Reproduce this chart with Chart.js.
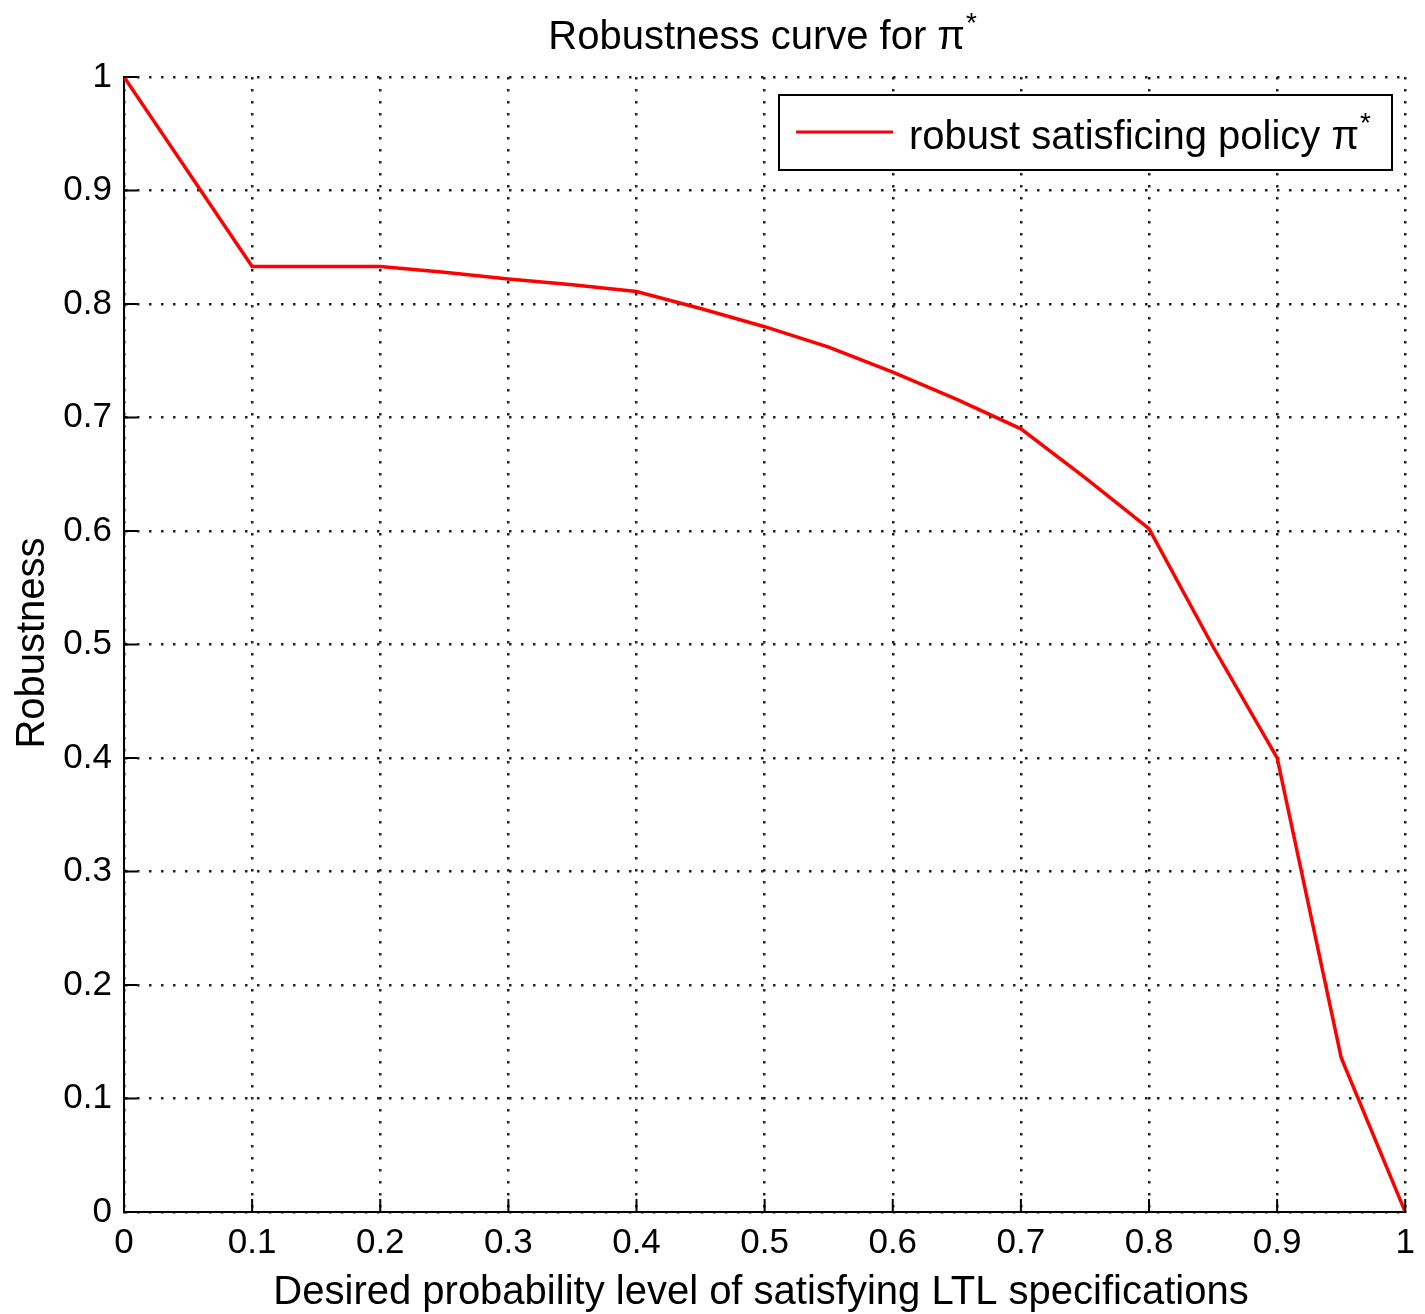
<!DOCTYPE html>
<html>
<head>
<meta charset="utf-8">
<script src="https://cdn.jsdelivr.net/npm/chart.js@4/dist/chart.umd.min.js"></script>
<style>
  html, body { margin: 0; padding: 0; background: #fff; }
  #wrap { width: 1425px; height: 1314px; }
</style>
</head>
<body>
<div id="wrap"><canvas id="robChart" width="1425" height="1314"></canvas></div>
<script>
// robustness curve for pi*

const probLevels = [0, 0.1, 0.2, 0.25, 0.3, 0.35, 0.4, 0.45, 0.5, 0.55, 0.6, 0.65, 0.7, 0.75, 0.8, 0.85, 0.9, 0.95, 1];
const robustness = [1, 0.833, 0.833, 0.828, 0.822, 0.817, 0.811, 0.796, 0.780, 0.762, 0.740, 0.716, 0.690, 0.647, 0.602, 0.498, 0.400, 0.136, 0];
const tickValues = [0, 0.1, 0.2, 0.3, 0.4, 0.5, 0.6, 0.7, 0.8, 0.9, 1];

const TITLE_TEXT  = "Robustness curve for π";
const XLABEL_TEXT = "Desired probability level of satisfying LTL specifications";
const YLABEL_TEXT = "Robustness";
const LEGEND_TEXT = "robust satisficing policy π";

const FONT = "'Liberation Sans', Arial, Helvetica, sans-serif";
const RED  = "#ff0000";

const fmtTick = v => (v === 0 || v === 1) ? String(v) : v.toFixed(1);

// draw text with a superscript asterisk after it
function _textStar(ctx, txt, x, y, size) {
  ctx.fillText(txt, x, y);
  const w = ctx.measureText(txt).width;
  ctx.save();
  ctx.font = `${Math.round(size * 0.7)}px ${FONT}`;
  ctx.fillText("*", x + w + 1, y - size * 0.42);
  ctx.restore();
  return w;
}

const decorPlugin = {
  id: "decor",
  afterDraw(chart) {
    const { ctx, chartArea: a, scales } = chart;
    const xs = scales.x, ys = scales.y;
    ctx.save();

    // inward tick marks on left and bottom axes
    ctx.strokeStyle = "#000";
    ctx.lineWidth = 2;
    ctx.beginPath();
    tickValues.forEach(v => {
      const px = xs.getPixelForValue(v);
      ctx.moveTo(px, a.bottom);
      ctx.lineTo(px, a.bottom - 13);
      const py = ys.getPixelForValue(v);
      ctx.moveTo(a.left, py);
      ctx.lineTo(a.left + 13, py);
    });
    ctx.stroke();

    ctx.fillStyle = "#000";

    // title
    ctx.font = `40px ${FONT}`;
    ctx.textBaseline = "alphabetic";
    ctx.textAlign = "left";
    const tw = ctx.measureText(TITLE_TEXT).width + 16;
    _textStar(ctx, TITLE_TEXT, (a.left + a.right) / 2 - tw / 2, 49, 40);

    // x label
    ctx.font = `40px ${FONT}`;
    ctx.textAlign = "center";
    ctx.fillText(XLABEL_TEXT, 761, 1304);

    // y label
    ctx.save();
    ctx.translate(44, 643);
    ctx.rotate(-Math.PI / 2);
    ctx.fillText(YLABEL_TEXT, 0, 0);
    ctx.restore();

    // legend box
    const lx = 779, ly = 95, lw = 613, lh = 75;
    ctx.fillStyle = "#fff";
    ctx.fillRect(lx, ly, lw, lh);
    ctx.strokeStyle = "#000";
    ctx.lineWidth = 2;
    ctx.strokeRect(lx, ly, lw, lh);
    ctx.strokeStyle = RED;
    ctx.lineWidth = 3;
    ctx.beginPath();
    ctx.moveTo(796, 132);
    ctx.lineTo(893, 132);
    ctx.stroke();
    ctx.fillStyle = "#000";
    ctx.font = `40px ${FONT}`;
    ctx.textAlign = "left";
    _textStar(ctx, LEGEND_TEXT, 909, 149, 40);

    ctx.restore();
  },
};

new Chart(document.getElementById("robChart").getContext("2d"), {
  type: "line",
  data: {
    datasets: [{
      data: probLevels.map((x, i) => ({ x, y: robustness[i] })),
      borderColor: RED,
      borderWidth: 3.5,
      pointRadius: 0,
      tension: 0,
      fill: false,
    }],
  },
  options: {
    responsive: false,
    animation: false,
    layout: { padding: { left: 0, right: 15, top: 77, bottom: 0 } },
    plugins: {
      legend: { display: false },
      tooltip: { enabled: false },
      title: { display: false },
    },
    scales: {
      x: {
        type: "linear",
        min: 0,
        max: 1,
        afterBuildTicks: s => { s.ticks = tickValues.map(value => ({ value })); },
        afterFit: s => { s.height = 102; },
        ticks: {
          color: "#000",
          font: { family: FONT, size: 35 },
          padding: 10,
          maxRotation: 0,
          callback: v => fmtTick(v),
        },
        grid: { color: "#222", lineWidth: 2.5, drawTicks: false },
        border: { display: true, color: "#000", width: 2, dash: [2.5, 9.5] },
      },
      y: {
        type: "linear",
        min: 0,
        max: 1,
        afterBuildTicks: s => { s.ticks = tickValues.map(value => ({ value })); },
        afterFit: s => { s.width = 124; },
        ticks: {
          color: "#000",
          font: { family: FONT, size: 35 },
          padding: 12,
          callback: v => fmtTick(v),
        },
        grid: { color: "#222", lineWidth: 2.5, drawTicks: false },
        border: { display: true, color: "#000", width: 2, dash: [2.5, 9.5] },
      },
    },
  },
  plugins: [decorPlugin],
});
</script>
</body>
</html>
